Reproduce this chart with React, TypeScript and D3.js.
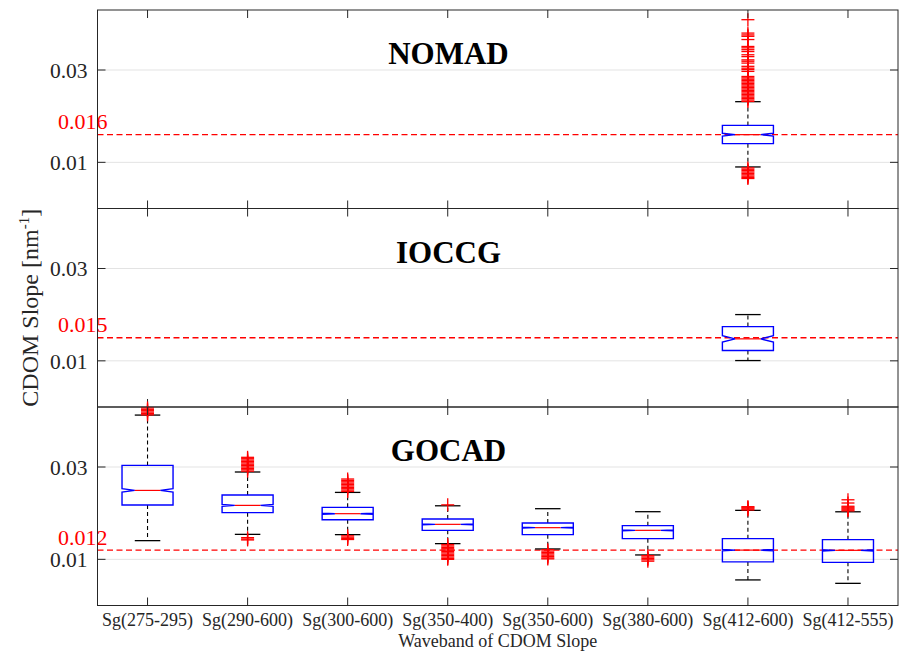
import React from "react";
import * as d3 from "d3";

// ---------- data ----------
const categories = [
  "Sg(275-295)", "Sg(290-600)", "Sg(300-600)", "Sg(350-400)",
  "Sg(350-600)", "Sg(380-600)", "Sg(412-600)", "Sg(412-555)",
];
const panelNames = ["NOMAD", "IOCCG", "GOCAD"];
const refValues = [0.016, 0.015, 0.012];
const refLabels = ["0.016", "0.015", "0.012"];
const yTicks = [0.01, 0.03];
const yTickLabels = ["0.01", "0.03"];

// NOMAD (only Sg(412-600))
const nomadCategory = [6];
const nomadLower = [0.009];
const nomadQ1 = [0.01405];
const nomadMedian = [0.016];
const nomadQ3 = [0.018];
const nomadUpper = [0.02314];
const nomadNotch = [0.0003];
const nomadOutliers = [[
  0.0409, 0.038, 0.0376, 0.0373, 0.0366, 0.0351, 0.0348, 0.0344, 0.034,
  0.0333, 0.0329, 0.0322, 0.0319, 0.0315, 0.0308, 0.0304, 0.0301, 0.0297,
  0.0286, 0.0283, 0.028, 0.0277, 0.0274, 0.0271, 0.0268, 0.0265, 0.0262,
  0.0259, 0.0256, 0.0253, 0.025, 0.0247, 0.0244, 0.0241, 0.0238, 0.0235, 0.0232,
  0.0088, 0.0085, 0.0082, 0.0079, 0.0076, 0.0073, 0.007, 0.0067, 0.0065,
]];

// IOCCG (only Sg(412-600))
const ioccgCategory = [6];
const ioccgLower = [0.01006];
const ioccgQ1 = [0.01223];
const ioccgMedian = [0.01476];
const ioccgQ3 = [0.01742];
const ioccgUpper = [0.02002];
const ioccgNotch = [0.0007];
const ioccgOutliers: number[][] = [[]];

// GOCAD (all wavebands)
const gocadCategory = [0, 1, 2, 3, 4, 5, 6, 7];
const gocadLower = [0.01405, 0.01541, 0.01535, 0.0134, 0.01225, 0.01095, 0.00554, 0.0048];
const gocadQ1 = [0.02177, 0.02011, 0.01859, 0.01628, 0.01535, 0.01448, 0.00944, 0.00935];
const gocadMedian = [0.02493, 0.02169, 0.01989, 0.01758, 0.01686, 0.01628, 0.012, 0.01195];
const gocadQ3 = [0.03035, 0.02394, 0.02126, 0.01874, 0.01788, 0.0173, 0.01448, 0.01426];
const gocadUpper = [0.04125, 0.02892, 0.0245, 0.0216, 0.02097, 0.02032, 0.02061, 0.0203];
const gocadNotch = [0.00037, 0.0002, 0.00012, 0.0001, 0.0001, 0.0001, 0.00015, 0.00015];
const gocadOutliers = [
  [0.0413, 0.0416, 0.0419, 0.0422, 0.0425, 0.0428],
  [0.0291, 0.0294, 0.0297, 0.03, 0.0303, 0.0306, 0.0309, 0.0312, 0.0315, 0.0318, 0.0321, 0.0147, 0.0144, 0.0142],
  [0.0247, 0.025, 0.0253, 0.0256, 0.0259, 0.0262, 0.0265, 0.0268, 0.0271, 0.0274, 0.0151, 0.0148, 0.0145, 0.0143],
  [0.0218, 0.0132, 0.0129, 0.0126, 0.0123, 0.012, 0.0117, 0.0114, 0.0111, 0.0108, 0.0105, 0.0102, 0.01],
  [0.0121, 0.0118, 0.0115, 0.0112, 0.0109, 0.0106, 0.0103, 0.0101],
  [0.0108, 0.0105, 0.0102, 0.0099, 0.0096],
  [0.0207, 0.0209, 0.0211, 0.0213, 0.0214],
  [0.0205, 0.0207, 0.0209, 0.0211, 0.0213, 0.0215, 0.0222, 0.0229],
];

// ---------- layout ----------
const W = 901;
const H = 656;
const left = 97.5;
const right = 898;
const top = 10;
const bottom = 605.5;
const panelH = (bottom - top) / 3;
const yDomain: [number, number] = [0, 0.043];
const FONT = "'Liberation Serif', 'Times New Roman', serif";
const AXIS = "#262626";

type Box = {
  cat: number; lo: number; q1: number; med: number; q3: number; hi: number; notch: number; out: number[];
};
function makeBoxes(cat: number[], lo: number[], q1: number[], med: number[], q3: number[], hi: number[], notch: number[], out: number[][]): Box[] {
  return cat.map((c, i) => ({ cat: c, lo: lo[i], q1: q1[i], med: med[i], q3: q3[i], hi: hi[i], notch: notch[i], out: out[i] }));
}
const panelBoxes: Box[][] = [
  makeBoxes(nomadCategory, nomadLower, nomadQ1, nomadMedian, nomadQ3, nomadUpper, nomadNotch, nomadOutliers),
  makeBoxes(ioccgCategory, ioccgLower, ioccgQ1, ioccgMedian, ioccgQ3, ioccgUpper, ioccgNotch, ioccgOutliers),
  makeBoxes(gocadCategory, gocadLower, gocadQ1, gocadMedian, gocadQ3, gocadUpper, gocadNotch, gocadOutliers),
];

const x = d3.scaleLinear().domain([0.5, categories.length + 0.5]).range([left, right]);
const boxHalf = (x(1) - x(0)) * 0.255;

function Panel({ idx }: { idx: number }) {
  const pTop = top + idx * panelH;
  const pBot = pTop + panelH;
  const y = d3.scaleLinear().domain(yDomain).range([pBot, pTop]);
  const boxes = panelBoxes[idx];
  const tickLen = 8;
  return (
    <g>
      {/* grid */}
      {yTicks.map((t) => (
        <line key={"g" + t} x1={left} x2={right} y1={y(t)} y2={y(t)} stroke="#e3e3e3" strokeWidth={1} />
      ))}
      {/* reference dashed line */}
      <line x1={left} x2={right} y1={y(refValues[idx])} y2={y(refValues[idx])} stroke="#ff0000" strokeWidth={1.3} strokeDasharray="6,3.5" />
      {/* boxes */}
      {boxes.map((b, i) => {
        const cx = x(b.cat + 1);
        const w = boxHalf;
        const path = d3.path();
        path.moveTo(cx - w, y(b.q3));
        path.lineTo(cx + w, y(b.q3));
        path.lineTo(cx + w, y(b.med + b.notch));
        path.lineTo(cx + w / 2, y(b.med));
        path.lineTo(cx + w, y(b.med - b.notch));
        path.lineTo(cx + w, y(b.q1));
        path.lineTo(cx - w, y(b.q1));
        path.lineTo(cx - w, y(b.med - b.notch));
        path.lineTo(cx - w / 2, y(b.med));
        path.lineTo(cx - w, y(b.med + b.notch));
        path.closePath();
        return (
          <g key={i}>
            <line x1={cx} x2={cx} y1={y(b.q3)} y2={y(b.hi)} stroke="#000" strokeWidth={1.1} strokeDasharray="4,3" />
            <line x1={cx} x2={cx} y1={y(b.q1)} y2={y(b.lo)} stroke="#000" strokeWidth={1.1} strokeDasharray="4,3" />
            <line x1={cx - w / 2} x2={cx + w / 2} y1={y(b.hi)} y2={y(b.hi)} stroke="#000" strokeWidth={1.3} />
            <line x1={cx - w / 2} x2={cx + w / 2} y1={y(b.lo)} y2={y(b.lo)} stroke="#000" strokeWidth={1.3} />
            <path d={path.toString()} fill="none" stroke="#0000ff" strokeWidth={1.4} />
            <line x1={cx - w / 2} x2={cx + w / 2} y1={y(b.med)} y2={y(b.med)} stroke="#ff0000" strokeWidth={1.2} />
            {b.out.map((o, k) => (
              <g key={k} stroke="#ff0000" strokeWidth={1.3}>
                <line x1={cx - 6.5} x2={cx + 6.5} y1={y(o)} y2={y(o)} />
                <line x1={cx} x2={cx} y1={y(o) - 6.5} y2={y(o) + 6.5} />
              </g>
            ))}
          </g>
        );
      })}
      {/* frame */}
      <rect x={left} y={pTop} width={right - left} height={panelH} fill="none" stroke={AXIS} strokeWidth={1} />
      {/* y ticks */}
      {yTicks.map((t, k) => (
        <g key={"yt" + t}>
          <line x1={left} x2={left + tickLen} y1={y(t)} y2={y(t)} stroke={AXIS} />
          <line x1={right} x2={right - tickLen} y1={y(t)} y2={y(t)} stroke={AXIS} />
          <text x={left - 10} y={y(t)} dy="0.36em" textAnchor="end" fontSize={21.5} fontFamily={FONT} fill={AXIS}>
            {yTickLabels[k]}
          </text>
        </g>
      ))}
      {/* x ticks */}
      {categories.map((c, k) => (
        <g key={"xt" + k}>
          <line x1={x(k + 1)} x2={x(k + 1)} y1={pTop} y2={pTop + tickLen} stroke={AXIS} />
          <line x1={x(k + 1)} x2={x(k + 1)} y1={pBot} y2={pBot - tickLen} stroke={AXIS} />
        </g>
      ))}
      {/* ref label */}
      <text x={58} y={y(refValues[idx]) - 5.5} fontSize={22} fontFamily={FONT} fill="#ff0000">
        {refLabels[idx]}
      </text>
      {/* title */}
      <text x={448.5} y={pTop + 54.4} textAnchor="middle" fontSize={31} fontWeight="bold" fontFamily={FONT} fill="#000">
        {panelNames[idx]}
      </text>
    </g>
  );
}

export default function App() {
  return (
    <svg width={W} height={H} style={{ position: "absolute", left: 0, top: 0, background: "#fff" }}>
      <rect width={W} height={H} fill="#fff" />
      {panelNames.map((_, i) => (
        <Panel key={i} idx={i} />
      ))}
      {categories.map((c, k) => (
        <text key={c} x={x(k + 1)} y={626} textAnchor="middle" fontSize={18} fontFamily={FONT} fill={AXIS}>
          {c}
        </text>
      ))}
      <text x={(left + right) / 2} y={646.5} textAnchor="middle" fontSize={18} fontFamily={FONT} fill={AXIS}>
        Waveband of CDOM Slope
      </text>
      <text transform={`translate(38,${top + panelH * 1.5}) rotate(-90)`} textAnchor="middle" fontSize={24} fontFamily={FONT} fill={AXIS}>
        CDOM Slope [nm<tspan dy={-9} fontSize={15}>-1</tspan><tspan dy={9}>]</tspan>
      </text>
    </svg>
  );
}
